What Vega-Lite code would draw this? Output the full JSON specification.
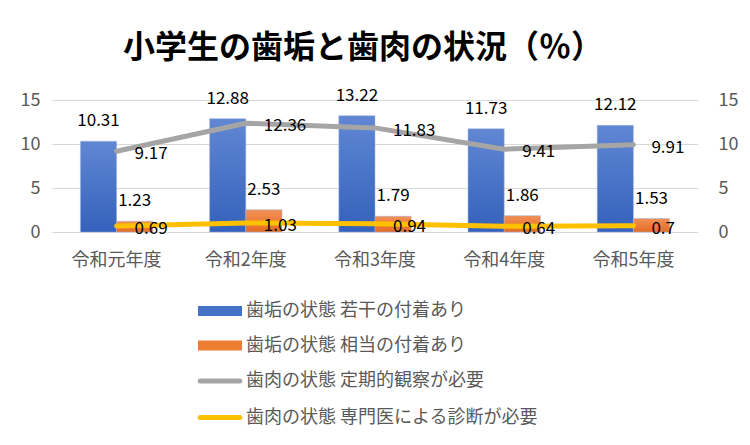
{
  "$schema": "https://vega.github.io/schema/vega-lite/v6.json",
  "width": 646,
  "height": 132,
  "autosize": {"type": "none"},
  "padding": {"left": 52, "top": 100, "right": 52, "bottom": 213},
  "background": "white",
  "title": {
    "text": "小学生の歯垢と歯肉の状況（％）",
    "font": "Noto Sans CJK JP",
    "fontSize": 32,
    "fontWeight": "bold",
    "color": "#000000",
    "anchor": "middle",
    "dx": -12,
    "offset": 22
  },
  "config": {
    "view": {"stroke": null},
    "font": "Noto Sans CJK JP",
    "axis": {"labelFont": "Noto Sans CJK JP"}
  },
  "data": {
    "values": [
      {"year": "令和元年度", "series": "歯垢の状態 若干の付着あり", "value": 10.31},
      {"year": "令和2年度", "series": "歯垢の状態 若干の付着あり", "value": 12.88},
      {"year": "令和3年度", "series": "歯垢の状態 若干の付着あり", "value": 13.22},
      {"year": "令和4年度", "series": "歯垢の状態 若干の付着あり", "value": 11.73},
      {"year": "令和5年度", "series": "歯垢の状態 若干の付着あり", "value": 12.12},
      {"year": "令和元年度", "series": "歯垢の状態 相当の付着あり", "value": 1.23},
      {"year": "令和2年度", "series": "歯垢の状態 相当の付着あり", "value": 2.53},
      {"year": "令和3年度", "series": "歯垢の状態 相当の付着あり", "value": 1.79},
      {"year": "令和4年度", "series": "歯垢の状態 相当の付着あり", "value": 1.86},
      {"year": "令和5年度", "series": "歯垢の状態 相当の付着あり", "value": 1.53},
      {"year": "令和元年度", "series": "歯肉の状態 定期的観察が必要", "value": 9.17},
      {"year": "令和2年度", "series": "歯肉の状態 定期的観察が必要", "value": 12.36},
      {"year": "令和3年度", "series": "歯肉の状態 定期的観察が必要", "value": 11.83},
      {"year": "令和4年度", "series": "歯肉の状態 定期的観察が必要", "value": 9.41},
      {"year": "令和5年度", "series": "歯肉の状態 定期的観察が必要", "value": 9.91},
      {"year": "令和元年度", "series": "歯肉の状態 専門医による診断が必要", "value": 0.69},
      {"year": "令和2年度", "series": "歯肉の状態 専門医による診断が必要", "value": 1.03},
      {"year": "令和3年度", "series": "歯肉の状態 専門医による診断が必要", "value": 0.94},
      {"year": "令和4年度", "series": "歯肉の状態 専門医による診断が必要", "value": 0.64},
      {"year": "令和5年度", "series": "歯肉の状態 専門医による診断が必要", "value": 0.7}
    ]
  },
  "encoding": {
    "x": {
      "field": "year",
      "type": "nominal",
      "sort": null,
      "scale": {"paddingInner": 0.44, "paddingOuter": 0.22},
      "axis": {
        "title": null,
        "labelAngle": 0,
        "labelFontSize": 18,
        "labelColor": "#595959",
        "labelPadding": 19,
        "ticks": false,
        "domain": false
      }
    }
  },
  "layer": [
    {
      "transform": [{"filter": {"field": "series", "oneOf": ["歯垢の状態 若干の付着あり", "歯垢の状態 相当の付着あり"]}}],
      "encoding": {
        "y": {
          "field": "value",
          "type": "quantitative",
          "scale": {"domain": [0, 15]},
          "axis": {
            "title": null,
            "values": [0, 5, 10, 15],
            "orient": "left",
            "labelFontSize": 18,
            "labelColor": "#595959",
            "labelPadding": 12,
            "ticks": false,
            "domain": false,
            "grid": true,
            "gridColor": "#D9D9D9",
            "gridWidth": 1
          }
        },
        "xOffset": {
          "field": "series",
          "type": "nominal",
          "sort": ["歯垢の状態 若干の付着あり", "歯垢の状態 相当の付着あり"],
          "scale": {"paddingInner": 0, "paddingOuter": 0}
        }
      },
      "layer": [
        {
          "mark": {"type": "bar", "stroke": "#9DB3E0", "strokeWidth": 0.5},
          "encoding": {
            "fill": {
              "condition": {
                "test": "datum.series === '歯垢の状態 若干の付着あり'",
                "value": {"gradient": "linear", "x1": 0, "y1": 0, "x2": 0, "y2": 1, "stops": [{"offset": 0, "color": "#6187D3"}, {"offset": 1, "color": "#3461BC"}]}
              },
              "value": {"gradient": "linear", "x1": 0, "y1": 0, "x2": 0, "y2": 1, "stops": [{"offset": 0, "color": "#F29057"}, {"offset": 1, "color": "#E46C22"}]}
            }
          }
        },
        {
          "mark": {"type": "text", "baseline": "middle", "align": "center", "dy": -20, "fontSize": 17, "color": "#000000"},
          "encoding": {"text": {"field": "value", "type": "quantitative"}}
        }
      ]
    },
    {
      "transform": [{"filter": {"field": "series", "oneOf": ["歯肉の状態 定期的観察が必要", "歯肉の状態 専門医による診断が必要"]}}],
      "encoding": {
        "y": {
          "field": "value",
          "type": "quantitative",
          "scale": {"domain": [0, 15]},
          "axis": {
            "title": null,
            "values": [0, 5, 10, 15],
            "orient": "right",
            "labelFontSize": 18,
            "labelColor": "#595959",
            "labelPadding": 20,
            "ticks": false,
            "domain": false,
            "grid": false
          }
        }
      },
      "layer": [
        {
          "mark": {"type": "line", "strokeWidth": 5, "strokeCap": "round", "strokeJoin": "round"},
          "encoding": {
            "color": {
              "field": "series",
              "type": "nominal",
              "scale": {
                "domain": ["歯垢の状態 若干の付着あり", "歯垢の状態 相当の付着あり", "歯肉の状態 定期的観察が必要", "歯肉の状態 専門医による診断が必要"],
                "range": ["#4472C4", "#ED7D31", "#A5A5A5", "#FFC000"]
              },
              "legend": {
                "title": null,
                "orient": "none",
                "legendX": 148,
                "legendY": 202,
                "direction": "vertical",
                "labelFontSize": 18,
                "labelColor": "#595959",
                "labelFont": "Noto Sans CJK JP",
                "labelOffset": 28,
                "rowPadding": 16.5,
                "symbolSize": 484,
                "labelLimit": 400,
                "encode": {
                  "symbols": {
                    "update": {
                      "shape": {"signal": "datum.index < 2 ? 'M-1,-0.45H3V0.45H-1Z' : 'M-0.8,0H2.8'"},
                      "fill": {"signal": "datum.index == 0 ? '#4472C4' : datum.index == 1 ? '#ED7D31' : 'transparent'"},
                      "stroke": {"signal": "datum.index == 2 ? '#A5A5A5' : datum.index == 3 ? '#FFC000' : 'transparent'"},
                      "strokeWidth": {"signal": "datum.index < 2 ? 0 : 5"},
                      "strokeCap": {"value": "round"},
                      "opacity": {"value": 1}
                    }
                  }
                }
              }
            }
          }
        },
        {
          "mark": {"type": "text", "baseline": "middle", "align": "left", "dx": 18, "dy": 3, "fontSize": 17, "color": "#000000"},
          "encoding": {"text": {"field": "value", "type": "quantitative"}}
        }
      ]
    }
  ],
  "resolve": {"scale": {"y": "independent"}}
}
